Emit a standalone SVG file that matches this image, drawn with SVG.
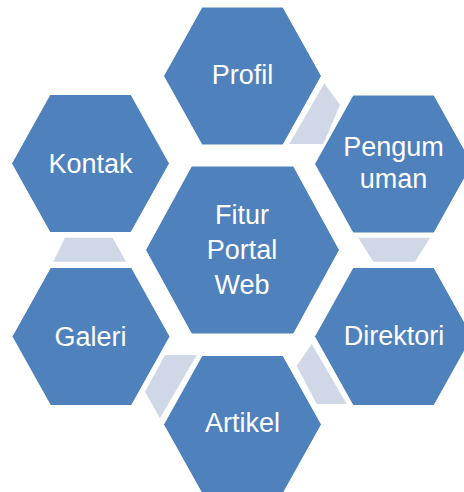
<svg xmlns="http://www.w3.org/2000/svg" width="464" height="492" viewBox="0 0 464 492">
<style>
.hex{fill:#4F81BD;stroke:#FFFFFF;stroke-width:1}
.con{fill:#D0D8E8}
.lbl{font-family:"Liberation Sans",Arial,sans-serif;font-size:27px;fill:#FFFFFF;text-anchor:middle}
</style>
<rect width="464" height="492" fill="#FFFFFF"/>
<g id="connectors">
<polygon class="con" points="324.3,83.3 340,105 323.3,144 289.3,144"/>
<polygon class="con" points="358.3,237.7 430,237.7 415,261.7 373.3,261.7"/>
<polygon class="con" points="311.7,344 296.7,366 316.7,404 346.7,404"/>
<polygon class="con" points="165,355 196.7,355 160,418.3 145,391.7"/>
<polygon class="con" points="65,237.7 112.7,237.7 126,261.7 53.3,261.7"/>
</g>
<g id="center">
<polygon class="hex" points="145.5,250 191.5,166 293.5,166 339.5,250 293.5,334 191.5,334"/>
<text class="lbl" x="242" y="224">Fitur</text>
<text class="lbl" x="242" y="259">Portal</text>
<text class="lbl" x="242" y="294">Web</text>
</g>
<g id="profil">
<polygon class="hex" points="163.5,76 202,7 283,7 321.5,76 283,145 202,145"/>
<text class="lbl" x="242.5" y="84">Profil</text>
</g>
<g id="pengumuman">
<polygon class="hex" points="314.5,164 353,95 434,95 472.5,164 434,233 353,233"/>
<text class="lbl" x="393.5" y="156">Pengum</text>
<text class="lbl" x="393.5" y="188">uman</text>
</g>
<g id="direktori">
<polygon class="hex" points="314.5,336.5 353,267.5 434,267.5 472.5,336.5 434,405.5 353,405.5"/>
<text class="lbl" x="394" y="345">Direktori</text>
</g>
<g id="artikel">
<polygon class="hex" points="163.5,424.5 202,355.5 283,355.5 321.5,424.5 283,493.5 202,493.5"/>
<text class="lbl" x="242.5" y="432">Artikel</text>
</g>
<g id="galeri">
<polygon class="hex" points="12,336.5 50.5,267.5 131.5,267.5 170,336.5 131.5,405.5 50.5,405.5"/>
<text class="lbl" x="90.5" y="346">Galeri</text>
</g>
<g id="kontak">
<polygon class="hex" points="11.5,163.5 50,94.5 131,94.5 169.5,163.5 131,232.5 50,232.5"/>
<text class="lbl" x="90.5" y="173">Kontak</text>
</g>
</svg>
